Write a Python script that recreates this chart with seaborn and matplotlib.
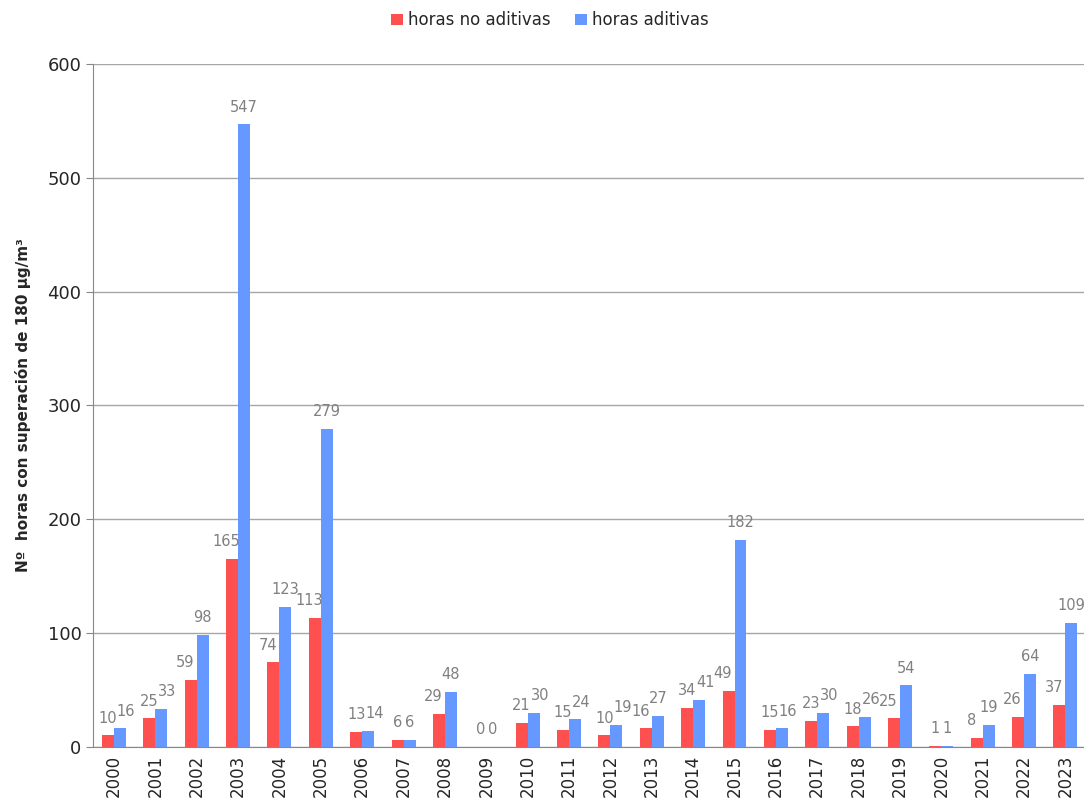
import pandas as pd
import seaborn as sns
import matplotlib.pyplot as plt


"""
1. Data read from the chart
"""
years = [str(y) for y in range(2000, 2024)]
no_aditivas = [10, 25, 59, 165, 74, 113, 13, 6, 29, 0, 21, 15,
               10, 16, 34, 49, 15, 23, 18, 25, 1, 8, 26, 37]
aditivas = [16, 33, 98, 547, 123, 279, 14, 6, 48, 0, 30, 24,
            19, 27, 41, 182, 16, 30, 26, 54, 1, 19, 64, 109]
series_names = ['horas no aditivas', 'horas aditivas']
colors = ['#FF5050', '#6699FF']

data = pd.DataFrame({
    'year': years * 2,
    'value': no_aditivas + aditivas,
    'serie': [series_names[0]] * len(years) + [series_names[1]] * len(years),
})


"""
2. Plot
"""
sns.set_style('white')
plt.rcParams['font.family'] = ['DejaVu Sans']

fig = plt.figure(figsize=(10.84, 8.09), dpi=100)
ax = fig.add_axes([0.086, 0.077, 0.916, 0.844])

sns.barplot(data=data, x='year', y='value', hue='serie',
            palette=colors, width=0.58, gap=0, saturation=1,
            edgecolor='none', ax=ax)

# value labels above each bar, nudged sideways where they would collide
red_bars, blue_bars = ax.containers[0], ax.containers[1]
for rb, bb, rv, bv in zip(red_bars, blue_bars, no_aditivas, aditivas):
    if rv < 10 and bv < 10:
        # single digits fit side by side
        dx_red, dx_blue = 0, 0
    elif abs(bv - rv) < 10:
        dx_red, dx_blue = 0, 4.5
    else:
        dx_red, dx_blue = -4, 0
    for bar, val, dx in [(rb, rv, dx_red), (bb, bv, dx_blue)]:
        ax.annotate(str(val), (bar.get_x() + bar.get_width() / 2, bar.get_height()),
                    xytext=(dx, 7), textcoords='offset points',
                    ha='center', va='bottom', color='#808080', fontsize=10.5)

ax.set_ylim(0, 600)
ax.set_xlim(-0.5, len(years) - 0.5)
ax.set_yticks(range(0, 601, 100))
ax.yaxis.grid(True, color='#a6a6a6', linewidth=1)
ax.set_axisbelow(True)

for side in ['top', 'right']:
    ax.spines[side].set_visible(False)
ax.spines['left'].set_color('#888888')
ax.spines['bottom'].set_color('#888888')

# ticks at category boundaries
ax.set_xticks([i - 0.5 for i in range(len(years) + 1)], minor=True)
ax.tick_params(axis='x', which='minor', length=7, color='#888888', width=1)
ax.tick_params(axis='x', which='major', length=0, labelsize=12,
               labelrotation=90, pad=6)
ax.tick_params(axis='y', which='major', length=5, color='#888888',
               labelsize=13, left=True)

ax.set_xlabel('')
ax.set_ylabel('Nº  horas con superación de 180 µg/m³',
              fontsize=11, fontweight='bold', labelpad=12)

ax.legend(loc='center', bbox_to_anchor=(0.46, 1.064), ncol=2,
          frameon=False, fontsize=12, handlelength=0.7, handleheight=0.7,
          handletextpad=0.3, columnspacing=1.5)

plt.savefig('out.png', dpi=100)
